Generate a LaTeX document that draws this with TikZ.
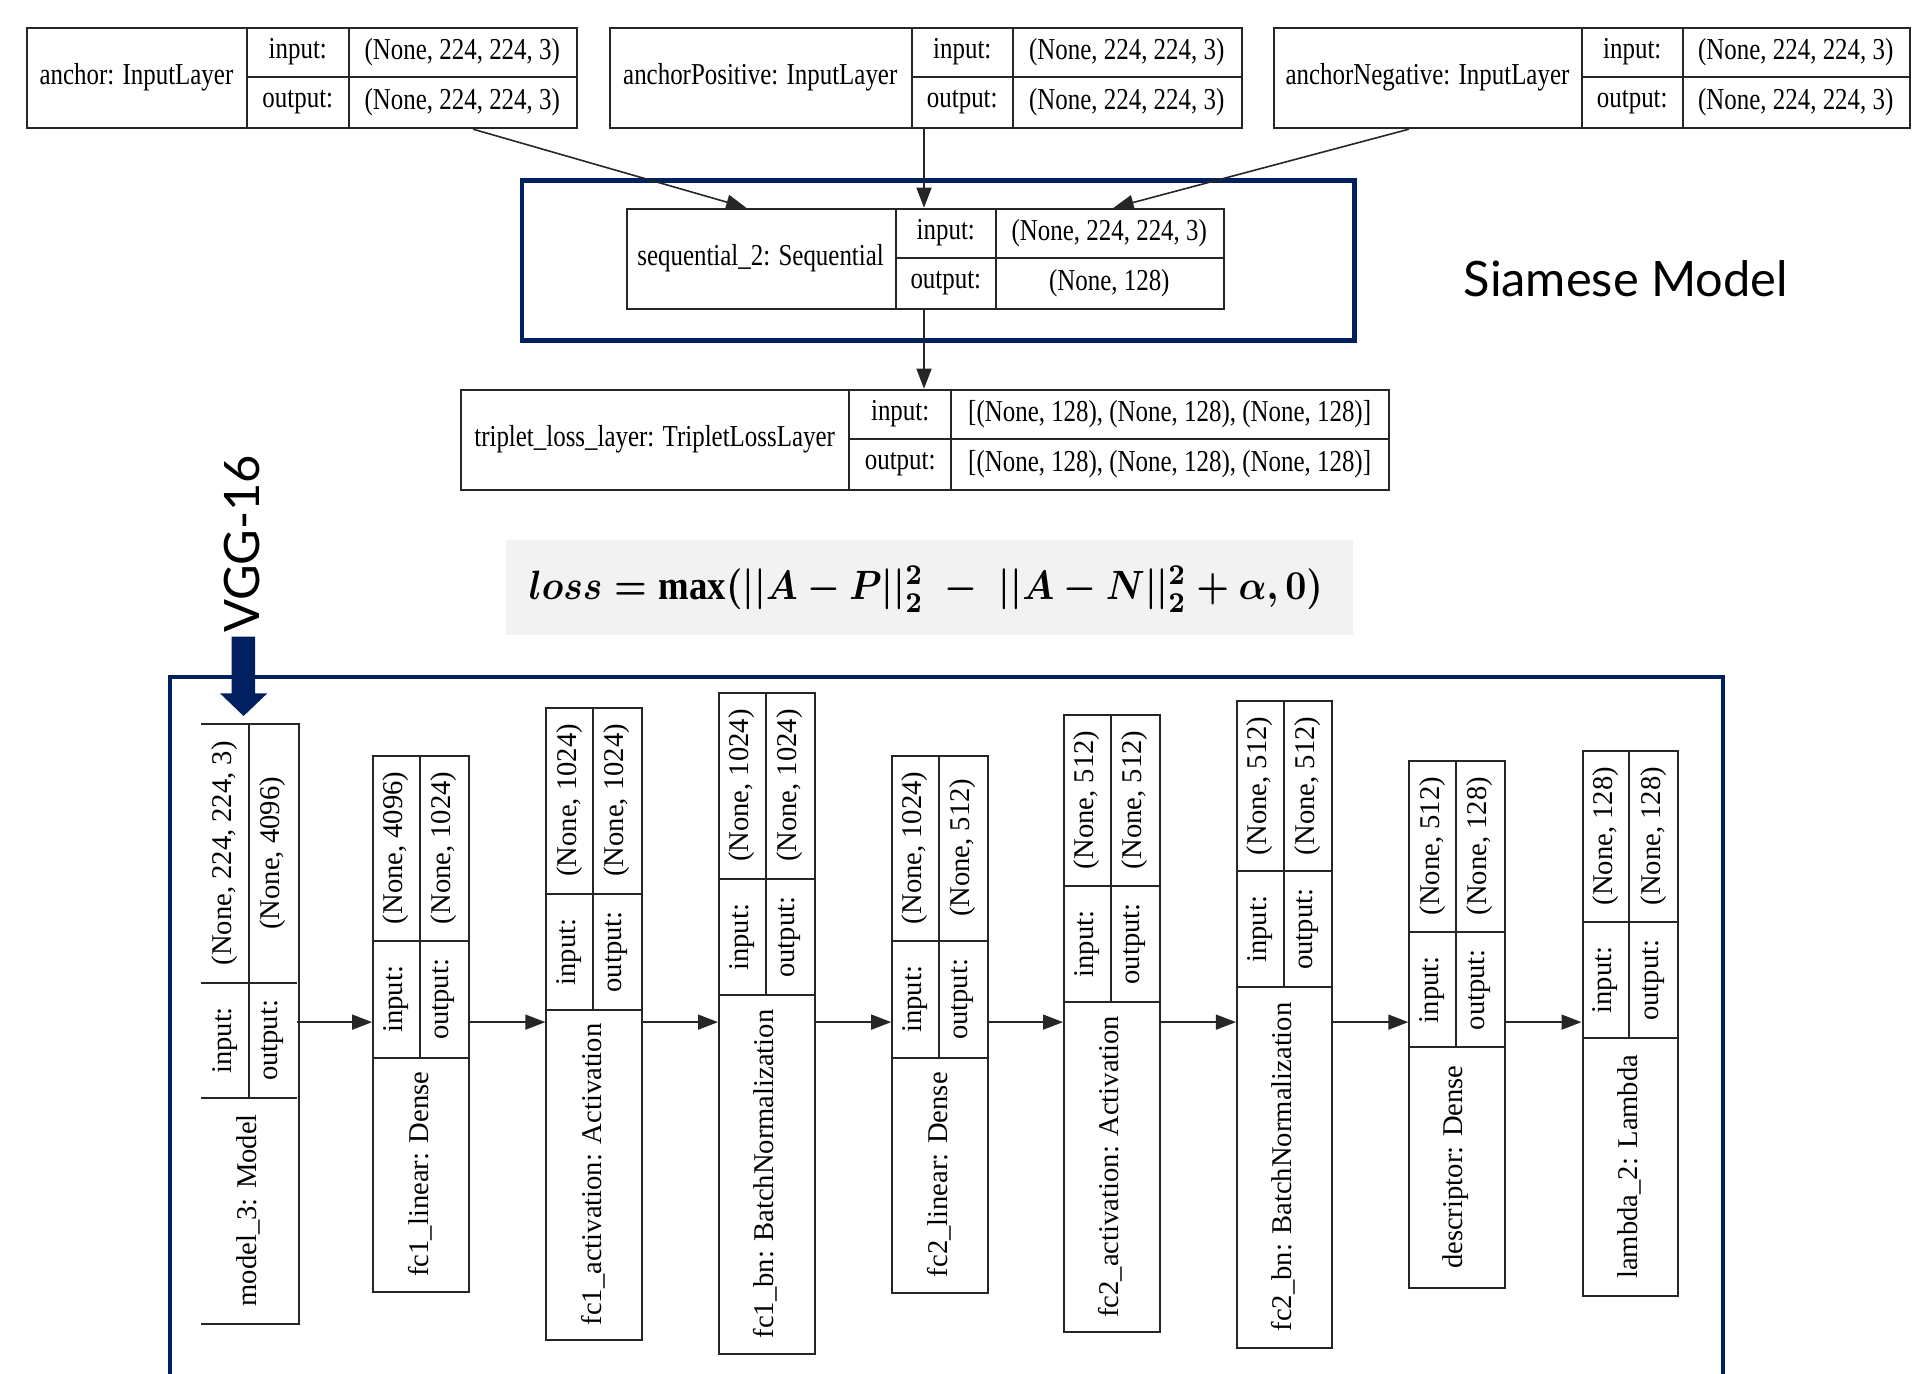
\documentclass[tikz,border=0pt]{standalone}
\usepackage{fontspec}
\usepackage{graphicx}
\setmainfont{Liberation Serif}
\newfontfamily\gvtop[FakeStretch=0.82]{Liberation Serif}
\newfontfamily\gvbot{Liberation Serif}
\newfontfamily\gill{Lato}
\usetikzlibrary{arrows.meta}
\definecolor{navy}{HTML}{002060}
\definecolor{formulabg}{HTML}{F2F2F2}
\tikzset{
  box/.style={draw=black!85, line width=1pt, inner sep=0pt, anchor=north west},
  vbox/.style={box},
  cell/.style={line width=1pt, draw=black!85},
  toptxt/.style={font=\gvtop\fontsize{15.2}{18}\selectfont, inner sep=0pt},
  bottxt/.style={font=\gvbot\fontsize{14.3}{17}\selectfont, inner sep=0pt, rotate=90},
  arr/.style={draw=black!85, line width=0.8pt, -{Triangle[length=10pt,width=7.5pt]}},
  navybox/.style={draw=navy, line width=2.4pt, inner sep=0pt, anchor=north west},
  bigtxt/.style={font=\gill\fontsize{24.4}{29}\selectfont, inner sep=0pt, anchor=base west},
}
% name, xl, xd1, xd2, xr, yt, label, in, out
\newcommand\hlayer[9]{%
  \node[box, minimum width={(#5-#2)*0.5pt}, minimum height=50.25pt] (#1) at (#2,#6) {};
  \draw[cell] (#3,#6) -- (#3,{#6+100.5}) (#4,#6) -- (#4,{#6+100.5})
              (#3,{#6+50.25}) -- (#5,{#6+50.25});
  \node[toptxt] (#1-lab) at ({(#2+#3)/2},{#6+50.25}) {#7};
  \node[toptxt] (#1-il) at ({(#3+#4)/2},{#6+25.1}) {input:};
  \node[toptxt] (#1-ol) at ({(#3+#4)/2},{#6+75.4}) {output:};
  \node[toptxt] (#1-iv) at ({(#4+#5)/2},{#6+25.1}) {#8};
  \node[toptxt] (#1-ov) at ({(#4+#5)/2},{#6+75.4}) {#9};
}
% name, xl, yt, ya, yb, ybot, label, in, out
\newcommand\vlayer[9]{%
  \node[vbox, minimum width=47.75pt, minimum height={(#6-#3)*0.5pt}] (#1) at (#2,#3) {};
  \draw[cell] (#2,#4) -- ({#2+95.5},#4) (#2,#5) -- ({#2+95.5},#5)
              ({#2+47.75},#3) -- ({#2+47.75},#5);
  \node[bottxt] (#1-iv) at ({#2+23.9},{(#3+#4)/2}) {#8};
  \node[bottxt] (#1-ov) at ({#2+71.6},{(#3+#4)/2}) {#9};
  \node[bottxt] (#1-il) at ({#2+23.9},{(#4+#5)/2}) {input:};
  \node[bottxt] (#1-ol) at ({#2+71.6},{(#4+#5)/2}) {output:};
  \node[bottxt] (#1-lab) at ({#2+47.75},{(#5+#6)/2}) {#7};
  \coordinate (#1-l) at (#2,1022.1);
  \coordinate (#1-r) at ({#2+95.5},1022.1);
}
\begin{document}
\begin{tikzpicture}[x=0.5pt,y=-0.5pt]
\useasboundingbox (0,0) rectangle (1914,1373);

% ---------- top graph ----------
\hlayer{anchor}{25.9}{246.9}{348.7}{575.9}{26.7}{anchor: InputLayer}{(None, 224, 224, 3)}{(None, 224, 224, 3)}
\hlayer{apos}{608.9}{911.6}{1012.9}{1240.6}{26.7}{anchorPositive: InputLayer}{(None, 224, 224, 3)}{(None, 224, 224, 3)}
\hlayer{aneg}{1273.3}{1581.6}{1682.9}{1908.6}{26.7}{anchorNegative: InputLayer}{(None, 224, 224, 3)}{(None, 224, 224, 3)}
\hlayer{seq}{625.5}{895.6}{996}{1222.6}{207.7}{sequential\_2: Sequential}{(None, 224, 224, 3)}{(None, 128)}
\hlayer{trip}{460.2}{849}{951.3}{1388}{388.7}{triplet\_loss\_layer: TripletLossLayer}{[(None, 128), (None, 128), (None, 128)]}{[(None, 128), (None, 128), (None, 128)]}

\node[navybox, minimum width=416.4pt, minimum height=80pt] (siamese) at (519.6,178.3) {};

\draw[arr] ([xshift=223.65pt]anchor.south west) -- ([xshift=60.35pt]seq.north west);
\draw[arr] ([xshift=157.55pt]apos.south west) -- ([xshift=149.25pt]seq.north west);
\draw[arr] ([xshift=67.75pt]aneg.south west) -- ([xshift=244.05pt]seq.north west);
\draw[arr] ([xshift=149.25pt]seq.south west) -- ([xshift=231.9pt]trip.north west);

\node[bigtxt] (siamlab) at (1463.3,296.7) {Siamese Model};

% ---------- loss formula ----------
\node[fill=formulabg, inner sep=0pt, minimum width=423.65pt, minimum height=47.5pt, anchor=north west] (lossbg) at (505.7,540) {};
\node[inner sep=0pt] (loss) at (925.8,589)
  {\resizebox*{397pt}{23pt}{\boldmath$loss = \mathrm{max}(||A-P||_2^2\;-\;||A-N||_2^2+\alpha,0)$}};

% ---------- VGG part ----------
\node[bigtxt, rotate=90] (vgglab) at (259,633.3) {VGG-16};
\fill[navy] (231.7,636.7) -- (255,636.7) -- (255,693.3) -- (267.3,693.3) -- (243.6,716)
  -- (220,693.3) -- (231.7,693.3) -- cycle;
\draw[navy, line width=2.2pt] (170,1390) -- (170,676.7) -- (1723,676.7) -- (1723,1390);

\begin{scope}[vbox/.style={box, draw=none}]
\vlayer{model}{201.1}{723.9}{982.6}{1098.3}{1322.2}{model\_3: Model}{(None, 224, 224, 3)}{(None, 4096)}
\end{scope}
\draw[cell] (model.north west) -- (model.north east) -- (model.south east) -- (model.south west);
\vlayer{fcla}{372.1}{754.7}{941}{1057.7}{1290.6}{fc1\_linear: Dense}{(None, 4096)}{(None, 1024)}
\vlayer{fcaa}{545.3}{706.7}{894}{1009.8}{1339}{fc1\_activation: Activation}{(None, 1024)}{(None, 1024)}
\vlayer{fcba}{718}{692.2}{879.1}{995.3}{1352.6}{fc1\_bn: BatchNormalization}{(None, 1024)}{(None, 1024)}
\vlayer{fclb}{891.2}{754.7}{941}{1057.7}{1291.5}{fc2\_linear: Dense}{(None, 1024)}{(None, 512)}
\vlayer{fcab}{1063}{714}{885.8}{1002}{1331.3}{fc2\_activation: Activation}{(None, 512)}{(None, 512)}
\vlayer{fcbb}{1235.9}{700.4}{871.4}{987.1}{1346.7}{fc2\_bn: BatchNormalization}{(None, 512)}{(None, 512)}
\vlayer{desc}{1408.3}{760.1}{932}{1047.3}{1287}{descriptor: Dense}{(None, 512)}{(None, 128)}
\vlayer{lamb}{1581.5}{750.1}{922}{1038.3}{1295.1}{lambda\_2: Lambda}{(None, 128)}{(None, 128)}

\draw[arr] (model-r) -- (fcla-l);
\draw[arr] (fcla-r) -- (fcaa-l);
\draw[arr] (fcaa-r) -- (fcba-l);
\draw[arr] (fcba-r) -- (fclb-l);
\draw[arr] (fclb-r) -- (fcab-l);
\draw[arr] (fcab-r) -- (fcbb-l);
\draw[arr] (fcbb-r) -- (desc-l);
\draw[arr] (desc-r) -- (lamb-l);
\end{tikzpicture}
\end{document}
